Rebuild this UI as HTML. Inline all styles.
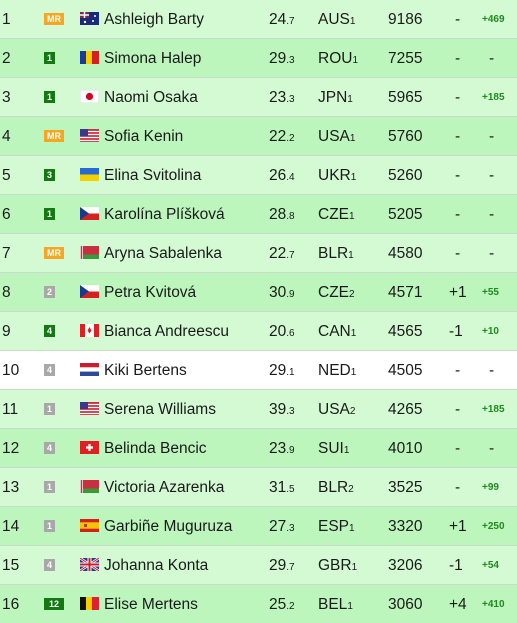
<!DOCTYPE html>
<html><head><meta charset="utf-8"><style>
html,body{margin:0;padding:0;width:517px;height:623px;overflow:hidden;background:#fff;font-family:"Liberation Sans","DejaVu Sans",sans-serif;}
#tbl{position:relative;width:517px;}
.row{position:absolute;left:0;width:517px;height:38px;border-bottom:1px solid #c8dcc8;font-size:15.5px;color:#1a1a1a;}
.row span{position:absolute;top:11px;white-space:nowrap;}
.badge{position:absolute;top:13px;height:12px;font-size:9px;font-weight:bold;color:#fff;text-align:center;line-height:12px;}
.flag{position:absolute;left:80px;top:12px;width:19px;height:13px;}
sub{font-size:10px;vertical-align:baseline;position:relative;top:0px;}
.diff{font-size:10px;font-weight:bold;color:#1f8a1f;top:14px!important;}
</style></head><body>
<div id="tbl"></div>
<script>
const ranks=[1,2,3,4,5,6,7,8,9,10,11,12,13,14,15,16];
const badges=["MR","1","1","MR","3","1","MR","2","4","4","1","4","1","1","4","12"];
const badgeType=["mr","up","up","mr","up","up","mr","gr","up","gr","gr","gr","gr","gr","gr","up"];
const names=["Ashleigh Barty","Simona Halep","Naomi Osaka","Sofia Kenin","Elina Svitolina","Karolína Plíšková","Aryna Sabalenka","Petra Kvitová","Bianca Andreescu","Kiki Bertens","Serena Williams","Belinda Bencic","Victoria Azarenka","Garbiñe Muguruza","Johanna Konta","Elise Mertens"];
const ages=["24.7","29.3","23.3","22.2","26.4","28.8","22.7","30.9","20.6","29.1","39.3","23.9","31.5","27.3","29.7","25.2"];
const countries=["AUS","ROU","JPN","USA","UKR","CZE","BLR","CZE","CAN","NED","USA","SUI","BLR","ESP","GBR","BEL"];
const cnum=["1","1","1","1","1","1","1","2","1","1","2","1","2","1","1","1"];
const points=[9186,7255,5965,5760,5260,5205,4580,4571,4565,4505,4265,4010,3525,3320,3206,3060];
const moves=["-","-","-","-","-","-","-","+1","-1","-","-","-","-","+1","-1","+4"];
const diffs=["+469","-","+185","-","-","-","-","+55","+10","-","+185","-","+99","+250","+54","+410"];
const flags={
AUS:'<rect width="19" height="13" fill="#1a2a7a"/><rect width="9" height="6" fill="#7a2a4a"/><path d="M0 3h9M4.5 0v6" stroke="#fff" stroke-width="1.5"/><circle cx="13" cy="9" r="1" fill="#fff"/><circle cx="15" cy="4" r="1" fill="#fff"/><circle cx="5" cy="10" r="1.2" fill="#fff"/>',
ROU:'<rect width="7" height="13" fill="#1a3a9a"/><rect x="6" width="7" height="13" fill="#f5d000"/><rect x="12" width="7" height="13" fill="#d42020"/>',
JPN:'<rect width="19" height="13" fill="#fff" stroke="#ddd"/><circle cx="9.5" cy="6.5" r="3.6" fill="#d40020"/>',
USA:'<rect width="19" height="13" fill="#c83040"/><path d="M0 2.5h19M0 5.5h19M0 8.5h19M0 11.5h19" stroke="#fff" stroke-width="1.2"/><rect width="8" height="7" fill="#3a3a8a"/>',
UKR:'<rect width="19" height="7" fill="#2a6ad0"/><rect y="6.5" width="19" height="6.5" fill="#f5d000"/>',
CZE:'<rect width="19" height="7" fill="#fff"/><rect y="6.5" width="19" height="6.5" fill="#d42020"/><path d="M0 0L9 6.5L0 13z" fill="#1a3a8a"/>',
BLR:'<rect width="19" height="9" fill="#c83040"/><rect y="8.5" width="19" height="4.5" fill="#3a9a3a"/><rect width="3" height="13" fill="#fff"/><rect x="0.7" width="1.6" height="13" fill="#c83040"/>',
CAN:'<rect width="19" height="13" fill="#fff"/><rect width="5" height="13" fill="#e02020"/><rect x="14" width="5" height="13" fill="#e02020"/><path d="M9.5 3l2 3.5-2 3-2-3z" fill="#e02020"/>',
NED:'<rect width="19" height="4.5" fill="#c82030"/><rect y="4.3" width="19" height="4.4" fill="#fff"/><rect y="8.6" width="19" height="4.4" fill="#2a4a9a"/>',
SUI:'<rect width="19" height="13" fill="#e02020"/><path d="M9.5 3v7M6 6.5h7" stroke="#fff" stroke-width="2.2"/>',
ESP:'<rect width="19" height="13" fill="#d02020"/><rect y="3.3" width="19" height="6.4" fill="#f5c400"/><rect x="4" y="5" width="3" height="3" fill="#b04020"/>',
GBR:'<rect width="19" height="13" fill="#2a3a8a"/><path d="M0 0L19 13M19 0L0 13" stroke="#fff" stroke-width="2.5"/><path d="M0 0L19 13M19 0L0 13" stroke="#c82030" stroke-width="1"/><path d="M9.5 0v13M0 6.5h19" stroke="#fff" stroke-width="4"/><path d="M9.5 0v13M0 6.5h19" stroke="#c82030" stroke-width="2"/>',
BEL:'<rect width="7" height="13" fill="#111"/><rect x="6" width="7" height="13" fill="#f5d000"/><rect x="12" width="7" height="13" fill="#e02030"/>'
};
const tbl=document.getElementById('tbl');
const badgeCol={mr:"#f5a623",up:"#137a13",gr:"#a8a8a8"};
for(let i=0;i<ranks.length;i++){
  const r=document.createElement('div');
  r.className='row';
  
  
  r.style.top=(i*39)+'px';
  r.style.background = i===9 ? '#ffffff' : (i%2===0 ? '#d3fad3' : '#bdf6bd');
  const w = badges[i].length>1 ? 20 : 11;
  r.innerHTML =
    '<span style="left:2px">'+ranks[i]+'</span>'+
    '<div class="badge" style="left:44px;width:'+w+'px;background:'+badgeCol[badgeType[i]]+'">'+badges[i]+'</div>'+
    '<svg class="flag" viewBox="0 0 19 13">'+flags[countries[i]]+'</svg>'+
    '<span style="left:104px">'+names[i]+'</span>'+
    '<span style="left:269px">'+ages[i].split('.')[0]+'<sub>.'+ages[i].split('.')[1]+'</sub></span>'+
    '<span style="left:318px">'+countries[i]+'<sub>'+cnum[i]+'</sub></span>'+
    '<span style="left:388px">'+points[i]+'</span>'+
    '<span style="left:'+(moves[i]==='-'?455:449)+'px">'+moves[i]+'</span>'+
    (diffs[i]==='-'?'<span style="left:489px">-</span>':'<span class="diff" style="left:482px">'+diffs[i]+'</span>');
  tbl.appendChild(r);
}
</script>
</body></html>
